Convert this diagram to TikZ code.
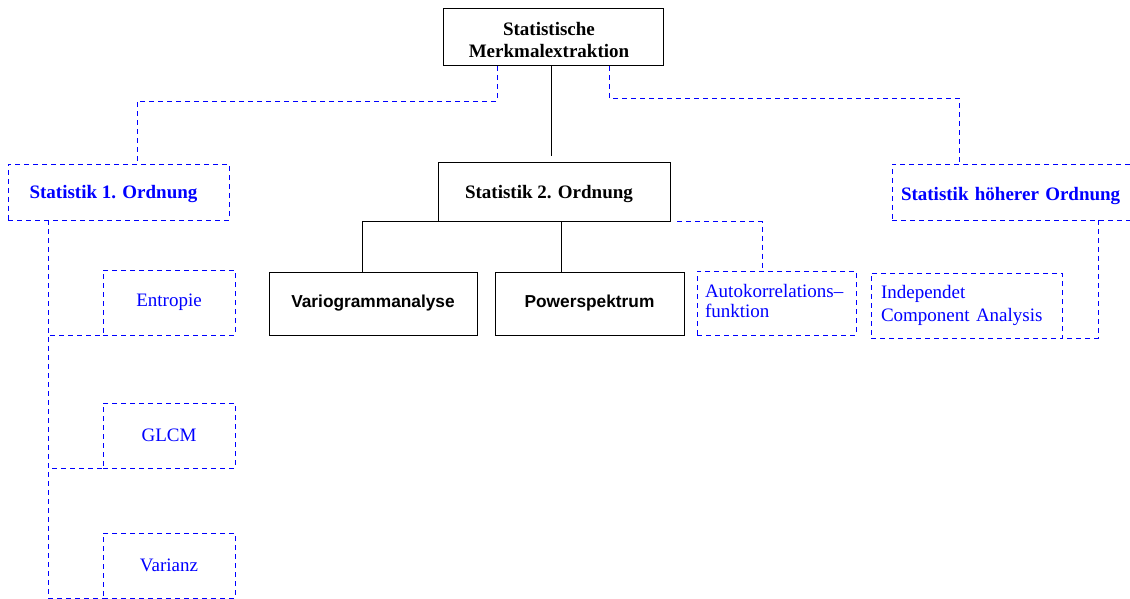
\documentclass[tikz,border=0pt]{standalone}
\usepackage{fontspec}
\setmainfont{Liberation Serif}
\newfontfamily\sansfam{Liberation Sans}
\begin{document}
\begin{tikzpicture}[x=1pt,y=-1pt,
  box/.style={draw=black, line width=1pt, inner sep=0pt, font=\bfseries\fontsize{19}{22}\selectfont},
  sbox/.style={draw=black, line width=1pt, inner sep=0pt, font=\sansfam\bfseries\fontsize{17.3}{20}\selectfont},
  dbox/.style={draw=blue, dash pattern=on 5pt off 4pt, line width=0.9pt, text=blue, inner sep=0pt, font=\fontsize{19}{23}\selectfont},
  dboxb/.style={dbox, font=\bfseries\fontsize{19}{23}\selectfont},
  dl/.style={blue, dash pattern=on 5pt off 4pt, line width=0.9pt},
  sl/.style={black, line width=1pt}]
\useasboundingbox (0,0) rectangle (1130,599);
% nodes
\node[box, align=center, minimum width=220pt, minimum height=57pt] (top) at (553,37.5)
  {\rule{0pt}{19pt}Statistische\hbox to 8pt{}\\Merkmalextraktion\hbox to 8pt{}};
\node[box, text height=16pt, text depth=3.4pt, minimum width=232pt, minimum height=58pt] (s2) at (554.5,192) {Statistik 2. Ordnung\hbox to 11pt{}};
\node[dboxb, text height=16pt, text depth=3.4pt, minimum width=221pt, minimum height=56pt] (s1) at (118.5,192) {Statistik 1. Ordnung\hbox to 10pt{}};
\node[dboxb, text height=18.5pt, text depth=0.9pt, text width=226pt, inner xsep=9pt, minimum height=56pt, align=left] (sh) at (1014,192) {Statistik höherer Ordnung};
\node[sbox, minimum width=208pt, minimum height=63pt] (vario) at (373,303.5) {Variogrammanalyse};
\node[sbox, minimum width=189pt, minimum height=63pt] (power) at (589.5,303.5) {Powerspektrum};
\node[dbox, text width=143pt, inner xsep=8pt, minimum height=64pt, align=left, font=\fontsize{19}{19.5}\selectfont] (auto) at (776.5,303) {Autokorrelations–\\funktion\rule[-4pt]{0pt}{4pt}};
\node[dbox, text width=171pt, inner xsep=10pt, minimum height=65pt, align=left] (ica) at (966.5,305.5) {Independet\\Component Analysis};
\node[dbox, minimum width=132pt, minimum height=65pt] (entropie) at (169,302.5) {Entropie};
\node[dbox, minimum width=132pt, minimum height=65pt] (glcm) at (169,435.5) {GLCM};
\node[dbox, minimum width=132pt, minimum height=65pt] (varianz) at (169,565.5) {Varianz};
% connectors
\draw[sl, shorten >=6pt] ([xshift=-2pt]top.south) -- ([xshift=-3.5pt]s2.north);
\draw[dl] ([xshift=-56pt]top.south) -- ++(0,35) -| ([xshift=18.5pt]s1.north);
\draw[dl] ([xshift=56pt]top.south) -- ++(0,32) -| ([xshift=-55pt]sh.north);
\draw[sl] (s2.south west) -| ([xshift=-11pt]vario.north);
\draw[sl] ([xshift=-28.5pt]power.north) -- ([xshift=-28.5pt]power.north |- s2.south);
\draw[dl, shorten <=6pt] (s2.south east) -| ([xshift=-14.5pt]auto.north);
\draw[dl] ([xshift=-70.5pt]s1.south) |- (entropie.south west);
\draw[dl] ([xshift=-70.5pt]s1.south) |- (glcm.south west);
\draw[dl] ([xshift=-70.5pt]s1.south) |- (varianz.south west);
\draw[dl] ([xshift=84pt]sh.south) |- (ica.south east);
\end{tikzpicture}
\end{document}
